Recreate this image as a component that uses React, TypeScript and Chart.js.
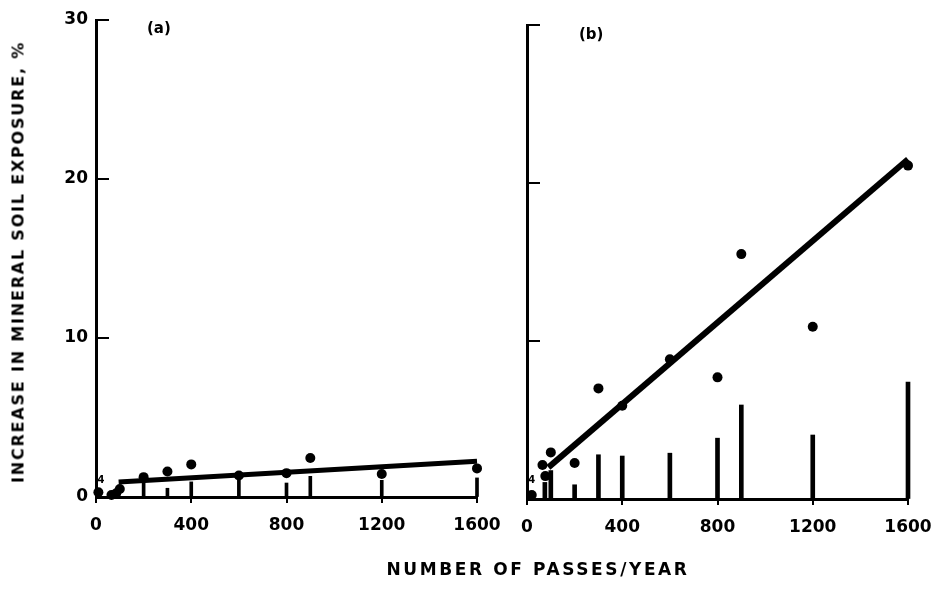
import React, { useEffect, useRef } from 'react';
import { Chart, registerables } from 'chart.js';

Chart.register(...registerables);

// ---- data ----
const X_MIN = 0;
const X_MAX = 1600;
const X_STEP = 400;
const Y_MIN = 0;
const Y_MAX = 30;
const Y_STEP = 10;
const Y_TICKS = [0, 10, 20, 30];

// panel (a)
const passesA = [10, 65, 85, 100, 200, 300, 400, 600, 800, 900, 1200, 1600];
const exposureA = [0.3, 0.13, 0.23, 0.5, 1.25, 1.6, 2.05, 1.35, 1.5, 2.45, 1.45, 1.8];
const barPassesA = [200, 300, 400, 600, 800, 900, 1200, 1600];
const barHeightsA = [1.0, 0.55, 0.95, 1.05, 0.88, 1.3, 1.05, 1.2];
const fitPassesA = [95, 1600];
const fitA = [0.95, 2.25];

// panel (b)
const passesB = [20, 65, 77, 100, 200, 300, 400, 600, 800, 900, 1200, 1600];
const exposureB = [0.25, 2.15, 1.45, 2.95, 2.28, 7.0, 5.9, 8.85, 7.7, 15.5, 10.9, 21.1];
const barPassesB = [75, 100, 200, 300, 400, 600, 800, 900, 1200, 1600];
const barHeightsB = [1.05, 1.8, 0.9, 2.8, 2.72, 2.9, 3.85, 5.95, 4.05, 7.4];
const fitPassesB = [90, 1600];
const fitB = [2.0, 21.5];

// "4" annotation (number of overlapping observations)
const noteText = '4';
const notePassesA = 21;
const noteValueA = 1.07;
const notePassesB = 20;
const noteValueB = 1.2;

const Y_TITLE = 'INCREASE IN MINERAL SOIL EXPOSURE, %';
const X_TITLE = 'NUMBER OF PASSES/YEAR';

const FONT = "'DejaVu Sans', 'Liberation Sans', Arial, sans-serif";

const pairs = (xs: number[], ys: number[]) => xs.map((x, i) => ({ x, y: ys[i] }));

const inwardTicks = {
  id: 'inwardTicks',
  afterDraw(chart: any) {
    const ctx = chart.ctx;
    const y = chart.scales.y;
    const left = chart.chartArea.left;
    ctx.save();
    ctx.strokeStyle = '#000';
    ctx.lineWidth = 2;
    Y_TICKS.filter((v) => v > 0).forEach((v) => {
      const py = y.getPixelForValue(v);
      ctx.beginPath();
      ctx.moveTo(left, py);
      ctx.lineTo(left + 13, py);
      ctx.stroke();
    });
    const note = chart.options.plugins.note;
    if (note) {
      ctx.fillStyle = '#000';
      ctx.font = `bold 10px ${FONT}`;
      ctx.textAlign = 'center';
      ctx.textBaseline = 'middle';
      ctx.fillText(note.text, chart.scales.x.getPixelForValue(note.x), y.getPixelForValue(note.y));
    }
    ctx.restore();
  },
};

function makeConfig(opts: {
  passes: number[];
  exposure: number[];
  barPasses: number[];
  barHeights: number[];
  fitPasses: number[];
  fit: number[];
  note: { x: number; y: number; text: string };
  showYLabels: boolean;
  yWidth: number;
  xHeight: number;
  padRight: number;
  padTop: number;
  lineWidth: number;
  barWidth: number;
}): any {
  const tickFont = { family: FONT, size: 17, weight: 'bold' as const };
  return {
    type: 'scatter',
    data: {
      datasets: [
        {
          type: 'scatter',
          data: pairs(opts.passes, opts.exposure),
          pointRadius: 5,
          pointBackgroundColor: '#000',
          pointBorderWidth: 0,
          order: 0,
          clip: false,
        },
        {
          type: 'line',
          data: pairs(opts.fitPasses, opts.fit),
          borderColor: '#000',
          borderWidth: opts.lineWidth,
          pointRadius: 0,
          fill: false,
          order: 1,
          clip: false,
        },
        {
          type: 'bar',
          data: pairs(opts.barPasses, opts.barHeights),
          backgroundColor: '#000',
          borderWidth: 0,
          barThickness: opts.barWidth,
          grouped: false,
          order: 2,
          clip: false,
        },
      ],
    },
    options: {
      responsive: false,
      animation: false,
      devicePixelRatio: 1,
      events: [],
      layout: { padding: { left: 0, right: opts.padRight, top: opts.padTop, bottom: 0 } },
      plugins: {
        legend: { display: false },
        tooltip: { enabled: false },
        title: { display: false },
        note: opts.note,
      },
      scales: {
        x: {
          type: 'linear',
          min: X_MIN,
          max: X_MAX,
          offset: false,
          afterFit: (s: any) => {
            s.height = opts.xHeight;
            s.paddingLeft = 0;
            s.paddingRight = 0;
          },
          ticks: {
            stepSize: X_STEP,
            font: tickFont,
            color: '#000',
            padding: 12,
            maxRotation: 0,
            autoSkip: false,
            callback: (v: any) => String(v),
          },
          grid: {
            offset: false,
            drawOnChartArea: false,
            drawTicks: true,
            tickLength: 6,
            lineWidth: 2,
            color: '#000',
          },
          border: { color: '#000', width: 3 },
        },
        y: {
          type: 'linear',
          min: Y_MIN,
          max: Y_MAX,
          afterFit: (s: any) => {
            s.width = opts.yWidth;
          },
          ticks: {
            stepSize: Y_STEP,
            display: opts.showYLabels,
            font: tickFont,
            color: '#000',
            padding: 8,
            callback: (v: any) => String(v),
          },
          grid: { offset: false, drawOnChartArea: false, drawTicks: false },
          border: { color: '#000', width: 3 },
        },
      },
    },
    plugins: [inwardTicks],
  };
}

export default function App() {
  const refA = useRef<HTMLCanvasElement | null>(null);
  const refB = useRef<HTMLCanvasElement | null>(null);

  useEffect(() => {
    const chartA = new Chart(
      refA.current as HTMLCanvasElement,
      makeConfig({
        passes: passesA,
        exposure: exposureA,
        barPasses: barPassesA,
        barHeights: barHeightsA,
        fitPasses: fitPassesA,
        fit: fitA,
        note: { x: notePassesA, y: noteValueA, text: noteText },
        showYLabels: true,
        yWidth: 96,
        xHeight: 92,
        padRight: 23,
        padTop: 20,
        lineWidth: 5,
        barWidth: 3,
      })
    );
    const chartB = new Chart(
      refB.current as HTMLCanvasElement,
      makeConfig({
        passes: passesB,
        exposure: exposureB,
        barPasses: barPassesB,
        barHeights: barHeightsB,
        fitPasses: fitPassesB,
        fit: fitB,
        note: { x: notePassesB, y: noteValueB, text: noteText },
        showYLabels: false,
        yWidth: 27,
        xHeight: 90,
        padRight: 25,
        padTop: 25,
        lineWidth: 6,
        barWidth: 4,
      })
    );
    return () => {
      chartA.destroy();
      chartB.destroy();
    };
  }, []);

  const textStyle: React.CSSProperties = {
    position: 'absolute',
    fontFamily: FONT,
    fontWeight: 'bold',
    color: '#000',
    whiteSpace: 'nowrap',
  };

  return (
    <div
      style={{
        position: 'absolute',
        left: 0,
        top: 0,
        width: 933,
        height: 589,
        background: '#fff',
        overflow: 'hidden',
      }}
    >
      <canvas
        ref={refA}
        width={500}
        height={589}
        style={{ position: 'absolute', left: 0, top: 0, width: 500, height: 589 }}
      />
      <canvas
        ref={refB}
        width={433}
        height={589}
        style={{ position: 'absolute', left: 500, top: 0, width: 433, height: 589 }}
      />
      <div
        style={{
          ...textStyle,
          fontSize: 16,
          letterSpacing: '1.8px',
          width: 447,
          height: 20,
          lineHeight: '20px',
          textAlign: 'center',
          left: 18 - 447 / 2,
          top: 262 - 10,
          transform: 'rotate(-90deg)',
        }}
      >
        {Y_TITLE}
      </div>
      <div
        style={{
          ...textStyle,
          fontSize: 17,
          letterSpacing: '2.6px',
          width: 400,
          height: 20,
          lineHeight: '20px',
          textAlign: 'center',
          left: 538 - 200,
          top: 569 - 10,
        }}
      >
        {X_TITLE}
      </div>
      <div style={{ ...textStyle, fontSize: 15, left: 147, top: 19 }}>(a)</div>
      <div style={{ ...textStyle, fontSize: 15, left: 579, top: 25 }}>(b)</div>
    </div>
  );
}
